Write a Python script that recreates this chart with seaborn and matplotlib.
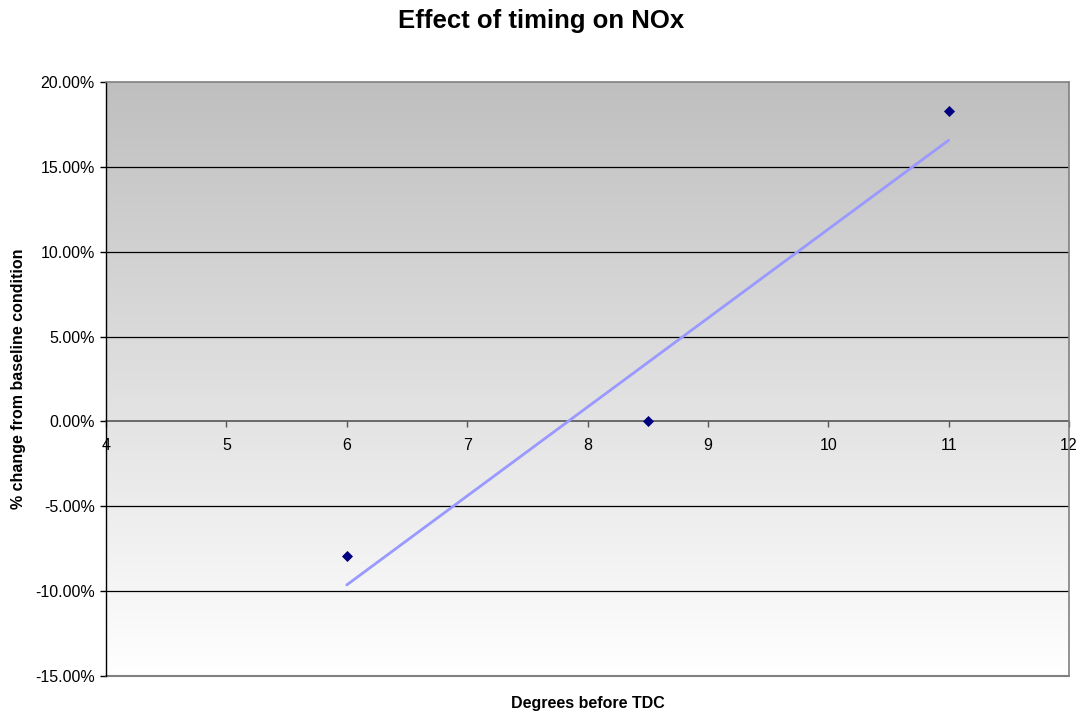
import numpy as np
import pandas as pd
import matplotlib
matplotlib.use("Agg")
import matplotlib.pyplot as plt
from matplotlib.colors import LinearSegmentedColormap
from matplotlib.ticker import FuncFormatter
import seaborn as sns

# Timing sweep and resulting NOx change relative to baseline (%)
degrees_before_tdc = [6.0, 8.5, 11.0]
nox_change_pct = [-7.9, 0.0, 18.3]

x_ticks = [4, 5, 6, 7, 8, 9, 10, 11, 12]
y_ticks = [-15, -10, -5, 0, 5, 10, 15, 20]

df = pd.DataFrame({"deg": degrees_before_tdc, "nox": nox_change_pct})

sns.set_style("white")
plt.rcParams["font.family"] = ["Liberation Sans", "DejaVu Sans"]
plt.rcParams["text.color"] = "black"
plt.rcParams["axes.labelcolor"] = "black"
plt.rcParams["xtick.color"] = "black"
plt.rcParams["ytick.color"] = "black"

fig = plt.figure(figsize=(10.81, 7.16), dpi=100)
ax = fig.add_axes([106 / 1081, 1 - 676 / 716, 963 / 1081, 594 / 716])

xmin, xmax = x_ticks[0], x_ticks[-1]
ymin, ymax = y_ticks[0], y_ticks[-1]

# Vertical grey-to-white gradient fill for the plot area
grad = np.linspace(0, 1, 256).reshape(-1, 1)
cmap = LinearSegmentedColormap.from_list("bg", ["#FFFFFF", "#BFBFBF"])
ax.imshow(grad, cmap=cmap, origin="lower", aspect="auto",
          extent=[xmin, xmax, ymin, ymax], zorder=0, interpolation="bilinear")

# Horizontal gridlines
for yv in y_ticks[1:-1]:
    if yv != 0:
        ax.axhline(yv, color="black", lw=0.9, zorder=1)

# Linear trendline over the data range
sns.regplot(data=df, x="deg", y="nox", ax=ax, scatter=False, ci=None,
            truncate=True, color="#9999FF", line_kws={"lw": 2, "zorder": 3})

sns.scatterplot(data=df, x="deg", y="nox", ax=ax, marker="D", s=32,
                color="#000080", edgecolor="#000080", linewidth=0, zorder=4)

ax.set_xlim(xmin, xmax)
ax.set_ylim(ymin, ymax)
ax.set_xticks(x_ticks)
ax.set_yticks(y_ticks)
ax.yaxis.set_major_formatter(FuncFormatter(lambda v, p: f"{v:.2f}%"))

for side in ["top", "right"]:
    ax.spines[side].set_color("#808080")
    ax.spines[side].set_linewidth(1.2)
ax.spines["left"].set_color("black")
ax.spines["left"].set_linewidth(1.0)
ax.spines["bottom"].set_position(("data", 0))
ax.spines["bottom"].set_color("#555555")
ax.spines["bottom"].set_linewidth(1.2)
ax.spines["bottom"].set_zorder(2)
# bottom frame edge of the plot area
ax.axhline(ymin, color="#808080", lw=1.5, zorder=2, clip_on=False)

ax.tick_params(axis="x", direction="out", length=4, width=1, color="#555555",
               labelsize=11.5, pad=8, bottom=True, labelcolor="black")
ax.tick_params(axis="y", direction="out", length=4, width=1, color="black",
               labelsize=11.5, pad=4, left=True, labelcolor="black")

ax.set_xlabel("Degrees before TDC", fontsize=11.5, fontweight="bold")
ax.xaxis.set_label_coords(0.5, -0.046)
ax.xaxis.label.set_verticalalignment("center")
ax.set_ylabel("% change from baseline condition", fontsize=11.5, fontweight="bold")
ax.yaxis.set_label_coords(-0.0905, 0.5)
ax.yaxis.label.set_verticalalignment("center")

fig.text(541 / 1081, 1 - 21 / 716, "Effect of timing on NOx", ha="center",
         va="center", fontsize=18.5, fontweight="bold")

fig.savefig("out.png", dpi=100)
